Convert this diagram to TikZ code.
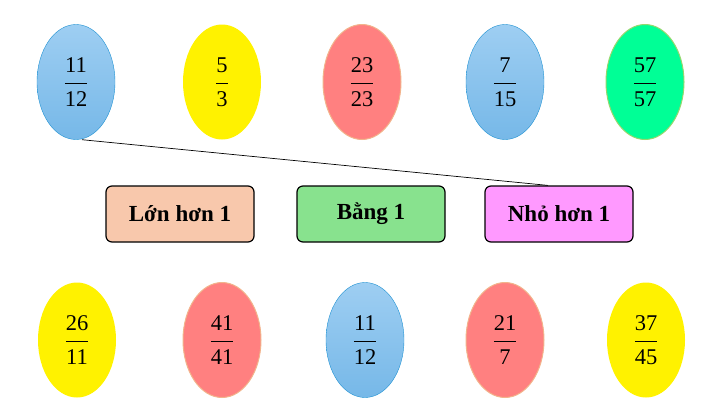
\documentclass[tikz,border=0pt]{standalone}
\usepackage{fontspec}
\setmainfont{Liberation Serif}
\usetikzlibrary{shapes.geometric, positioning}

\definecolor{bluetop}{RGB}{158,206,242}
\definecolor{bluebot}{RGB}{118,184,232}
\definecolor{blueline}{RGB}{30,145,210}
\definecolor{redfill}{RGB}{255,128,128}
\definecolor{redline}{RGB}{242,180,140}
\definecolor{greenfill}{RGB}{0,255,150}
\definecolor{greenline}{RGB}{150,215,110}
\definecolor{peach}{RGB}{248,200,172}
\definecolor{mint}{RGB}{136,226,142}
\definecolor{pink}{RGB}{255,153,255}

\newcommand{\phanso}[2]{$\displaystyle\frac{\mbox{\raisebox{2pt}{#1}}}{\mbox{\raisebox{-4pt}{#2}}}$}

\begin{document}
\begin{tikzpicture}[x=1pt, y=-1pt,
  egg/.style={ellipse, minimum width=78pt, minimum height=115pt, inner sep=0pt,
    font=\fontsize{22.5}{26}\selectfont},
  blueegg/.style={egg, draw=blueline, top color=bluetop, bottom color=bluebot},
  yellowegg/.style={egg, fill=yellow},
  redegg/.style={egg, draw=redline, line width=1pt, fill=redfill},
  greenegg/.style={egg, draw=greenline, line width=1pt, fill=greenfill},
  group/.style={draw, line width=1.2pt, rounded corners=6pt, minimum width=148pt,
    minimum height=56pt, font=\fontsize{23}{26}\selectfont\bfseries}]
  \useasboundingbox (0,0) rectangle (705,405);

  % hang tren
  \node[blueegg] (a1) at (76,82) {\phanso{11}{12}};
  \node[yellowegg] (a2) at (222,82) {\phanso{5}{3}};
  \node[redegg] (a3) at (362,82) {\phanso{23}{23}};
  \node[blueegg] (a4) at (505,82) {\phanso{7}{15}};
  \node[greenegg] (a5) at (645,82) {\phanso{57}{57}};

  % ba nhom
  \node[group, fill=peach] (lon) at (180,214) {Lớn hơn 1};
  \node[group, fill=mint] (bang) at (371,214) {Bằng 1};
  \node[group, fill=pink] (nho) at (559,214) {Nhỏ hơn 1};

  % hang duoi
  \node[yellowegg] (b1) at (77,340) {\phanso{26}{11}};
  \node[redegg] (b2) at (222,340) {\phanso{41}{41}};
  \node[blueegg] (b3) at (365,340) {\phanso{11}{12}};
  \node[redegg] (b4) at (505,340) {\phanso{21}{7}};
  \node[yellowegg] (b5) at (646,340) {\phanso{37}{45}};

  % noi
  \draw[line width=0.7pt] ([xshift=6pt]a1.south) -- ([xshift=-11pt]nho.north);
\end{tikzpicture}
\end{document}
